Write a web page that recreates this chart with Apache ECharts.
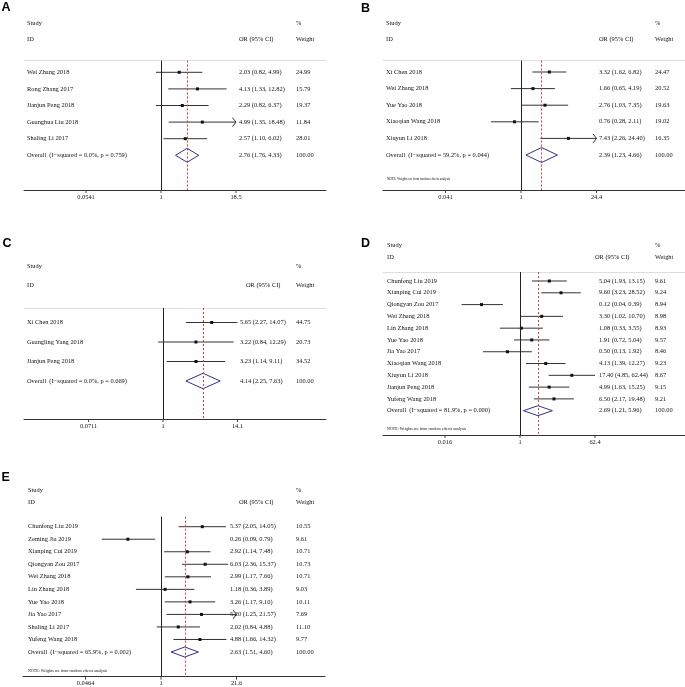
<!DOCTYPE html>
<html><head><meta charset="utf-8">
<script src="https://cdn.jsdelivr.net/npm/echarts@6/dist/echarts.min.js"></script>
<style>html,body{margin:0;padding:0;background:#fff}#c{width:685px;height:687px}</style>
</head><body><div id="c"></div><script>
// ---------------- DATA ----------------
const studiesA = ['Wei Zhang 2018','Rong Zhang 2017','Jianjun Peng 2018','Guanghua Liu 2018','Shaling Li 2017'];
const orA = [2.03, 4.13, 2.29, 4.99, 2.57];
const lowA = [0.82, 1.33, 0.82, 1.35, 1.10];
const highA = [4.99, 12.82, 6.37, 18.48, 6.02];
const weightA = [24.99, 15.79, 19.37, 11.84, 28.01];
const arrowsA = [0, 0, 0, 1, 0];
const overallA = [2.76, 1.76, 4.33];
const overallLabelA = 'Overall  (I\u2212squared = 0.0%, p = 0.759)';
const ticksA = [0.0541, 1, 18.5];
const tickLabelsA = ['0.0541', '1', '18.5'];

const studiesB = ['Xi Chen 2018','Wei Zhang 2018','Yue Yao 2018','Xiaoqian Wang 2018','Xiuyun Li 2018'];
const orB = [3.32, 1.66, 2.76, 0.76, 7.43];
const lowB = [1.62, 0.65, 1.03, 0.28, 2.26];
const highB = [6.82, 4.19, 7.35, 2.11, 24.40];
const weightB = [24.47, 20.52, 19.63, 19.02, 16.35];
const arrowsB = [0, 0, 0, 0, 1];
const overallB = [2.39, 1.23, 4.66];
const overallLabelB = 'Overall  (I\u2212squared = 59.2%, p = 0.044)';
const ticksB = [0.041, 1, 24.4];
const tickLabelsB = ['0.041', '1', '24.4'];

const studiesC = ['Xi Chen 2018','Guangling Yang 2018','Jianjun Peng 2018'];
const orC = [5.65, 3.22, 3.23];
const lowC = [2.27, 0.84, 1.14];
const highC = [14.07, 12.29, 9.11];
const weightC = [44.75, 20.73, 34.52];
const arrowsC = [0, 0, 0];
const overallC = [4.14, 2.25, 7.63];
const overallLabelC = 'Overall  (I\u2212squared = 0.0%, p = 0.669)';
const ticksC = [0.0711, 1, 14.1];
const tickLabelsC = ['0.0711', '1', '14.1'];

const studiesD = ['Chunfeng Liu 2019','Xianping Cui 2019','Qiongyan Zou 2017','Wei Zhang 2018','Lin Zhang 2018','Yue Yao 2018','Jia Yao 2017','Xiaoqian Wang 2018','Xiuyun Li 2018','Jianjun Peng 2018','Yufeng Wang 2018'];
const orD = [5.04, 9.60, 0.12, 3.30, 1.08, 1.91, 0.50, 4.13, 17.40, 4.99, 6.50];
const lowD = [1.93, 3.23, 0.04, 1.02, 0.33, 0.72, 0.13, 1.39, 4.85, 1.63, 2.17];
const highD = [13.15, 28.52, 0.39, 10.70, 3.55, 5.04, 1.92, 12.27, 62.44, 15.25, 19.48];
const weightD = [9.61, 9.24, 8.94, 8.98, 8.93, 9.57, 8.46, 9.23, 8.67, 9.15, 9.21];
const arrowsD = [0, 0, 0, 0, 0, 0, 0, 0, 0, 0, 0];
const overallD = [2.69, 1.21, 5.96];
const overallLabelD = 'Overall  (I\u2212squared = 81.9%, p = 0.000)';
const ticksD = [0.016, 1, 62.4];
const tickLabelsD = ['0.016', '1', '62.4'];

const studiesE = ['Chunfeng Liu 2019','Zeming Jia 2019','Xianping Cui 2019','Qiongyan Zou 2017','Wei Zhang 2018','Lin Zhang 2018','Yue Yao 2018','Jia Yao 2017','Shaling Li 2017','Yufeng Wang 2018'];
const orE = [5.37, 0.26, 2.92, 6.03, 2.99, 1.18, 3.26, 5.20, 2.02, 4.88];
const lowE = [2.05, 0.09, 1.14, 2.36, 1.17, 0.36, 1.17, 1.25, 0.84, 1.66];
const highE = [14.05, 0.79, 7.48, 15.37, 7.66, 3.89, 9.10, 21.57, 4.88, 14.32];
const weightE = [10.55, 9.61, 10.71, 10.73, 10.71, 9.03, 10.11, 7.69, 11.10, 9.77];
const arrowsE = [0, 0, 0, 0, 0, 0, 0, 1, 0, 0];
const overallE = [2.63, 1.51, 4.60];
const overallLabelE = 'Overall  (I\u2212squared = 65.9%, p = 0.002)';
const ticksE = [0.0464, 1, 21.6];
const tickLabelsE = ['0.0464', '1', '21.6'];

const noteText = 'NOTE: Weights are from random effects analysis';

// ---------------- LAYOUT ----------------
const panels = [
  {letter:'A', studies:studiesA, or:orA, lo:lowA, hi:highA, w:weightA, arrows:arrowsA, overall:overallA, overallLabel:overallLabelA, ticks:ticksA, tickLabels:tickLabelsA,
   L:{lx:1.5, ly:8, left:24, right:326, top:60.5, axisY:190, one:161, span:75, firstRow:72.3, rowStep:16.6, nameX:27, orX:239, orHeadX:239, wX:296, studyY:23, idY:39, dHalf:7, note:false}},
  {letter:'B', studies:studiesB, or:orB, lo:lowB, hi:highB, w:weightB, arrows:arrowsB, overall:overallB, overallLabel:overallLabelB, ticks:ticksB, tickLabels:tickLabelsB,
   L:{lx:361, ly:9, left:383, right:685, top:60.5, axisY:190, one:521, span:75.5, firstRow:72, rowStep:16.6, nameX:386, orX:599, orHeadX:599, wX:655, studyY:23, idY:39, dHalf:7.5, note:true, noteY:179, noteX:387, noteSize:3.2}},
  {letter:'C', studies:studiesC, or:orC, lo:lowC, hi:highC, w:weightC, arrows:arrowsC, overall:overallC, overallLabel:overallLabelC, ticks:ticksC, tickLabels:tickLabelsC,
   L:{lx:2.5, ly:244, left:24, right:326, top:308, axisY:419, one:163, span:74.5, firstRow:322.5, rowStep:19.5, nameX:27, orX:240, orHeadX:246, wX:296, studyY:266, idY:285, dHalf:7.7, note:false}},
  {letter:'D', studies:studiesD, or:orD, lo:lowD, hi:highD, w:weightD, arrows:arrowsD, overall:overallD, overallLabel:overallLabelD, ticks:ticksD, tickLabels:tickLabelsD,
   L:{lx:361, ly:244, left:383, right:685, top:272, axisY:435, one:520, span:75, firstRow:281, rowStep:11.79, nameX:387, orX:599, orHeadX:595, wX:655, studyY:245, idY:257, dHalf:5, note:true, noteY:429, noteX:387, noteSize:4}},
  {letter:'E', studies:studiesE, or:orE, lo:lowE, hi:highE, w:weightE, arrows:arrowsE, overall:overallE, overallLabel:overallLabelE, ticks:ticksE, tickLabels:tickLabelsE,
   L:{lx:1.5, ly:478, left:23, right:325, top:516.7, axisY:676.7, one:161, span:75.5, firstRow:526.7, rowStep:12.53, nameX:28, orX:230, orHeadX:239, wX:296, studyY:490, idY:502, dHalf:5, note:true, noteY:670.5, noteX:28, noteSize:4}}
];

const SERIF = '"Liberation Serif", "Times New Roman", serif';
const TXT = '#111';
const FS = 6.4;
function txt(x, y, s, size, align, color, weight, family) {
  return {type:'text', x:x, y:y, silent:true,
    style:{text:s, fill:color||TXT, font:(weight?weight+' ':'')+(size||FS)+'px '+(family||SERIF),
      align:align||'left', verticalAlign:'middle', textAlign:align||'left', textVerticalAlign:'middle'}};
}
const f2 = v => v.toFixed(2);

const grids = [], xAxes = [], yAxes = [], series = [], graphics = [];
panels.forEach((P, k) => {
  const L = P.L;
  const tmax = P.ticks[P.ticks.length - 1];
  const xmin = Math.pow(tmax, (L.left - L.one) / L.span);
  const xmax = Math.pow(tmax, (L.right - L.one) / L.span);
  const ymin = -(L.firstRow - L.top) / L.rowStep;
  const ymax = (L.axisY - L.firstRow) / L.rowStep;
  grids.push({left:L.left, top:L.top, width:L.right - L.left, height:L.axisY - L.top, containLabel:false});
  xAxes.push({type:'log', gridIndex:k, min:xmin, max:xmax, logBase:10, position:'bottom',
    axisLine:{show:true, onZero:false, lineStyle:{color:'#333', width:1}}, axisTick:{show:false}, axisLabel:{show:false}, splitLine:{show:false}});
  yAxes.push({type:'value', gridIndex:k, inverse:true, min:ymin, max:ymax, show:false, axisLine:{onZero:false}, splitLine:{show:false}});

  // reference lines
  series.push({type:'scatter', xAxisIndex:k, yAxisIndex:k, data:[], silent:true, animation:false,
    markLine:{silent:true, symbol:['none','none'], label:{show:false}, animation:false,
      data:[
        {yAxis:ymin, lineStyle:{color:'#dedede', width:1, type:'solid'}},
        {xAxis:1, lineStyle:{color:'#222', width:1, type:'solid'}},
        {xAxis:P.overall[0], lineStyle:{color:'#e23b32', width:1, type:[2,2]}}
      ]}});

  // rows
  const n = P.studies.length;
  const rows = P.studies.map((s, i) => [P.or[i], i, P.lo[i], P.hi[i], P.w[i], 0, P.arrows[i]]);
  rows.push([P.overall[0], n, P.overall[1], P.overall[2], 100, 1, 0]);
  series.push({type:'custom', xAxisIndex:k, yAxisIndex:k, data:rows, animation:false, silent:true, clip:false, z:3,
    renderItem:(params, api) => {
      const i = params.dataIndex;
      const or = api.value(0), y = api.value(1), lo = api.value(2), hi = api.value(3), w = api.value(4), isOv = api.value(5), arr = api.value(6);
      const yPx = api.coord([1, y])[1];
      const xo = api.coord([or, y])[0];
      const xl = api.coord([Math.max(lo, P.ticks[0]), y])[0];
      const xh = api.coord([Math.min(hi, tmax), y])[0];
      const ch = [];
      if (isOv) {
        const h = L.dHalf;
        ch.push({type:'polygon', shape:{points:[[xl,yPx],[xo,yPx-h],[xh,yPx],[xo,yPx+h]]},
          style:{fill:'none', stroke:'#2e3192', lineWidth:1}});
        ch.push(txt(L.nameX, yPx, P.overallLabel));
      } else {
        ch.push({type:'line', shape:{x1:xl, y1:yPx, x2:xh, y2:yPx}, style:{stroke:'#333', lineWidth:1}});
        if (arr) {
          ch.push({type:'polyline', shape:{points:[[xh-3.5, yPx-4.5],[xh, yPx],[xh-3.5, yPx+4.5]]}, style:{stroke:'#333', lineWidth:1, fill:'none'}});
        }
        ch.push({type:'rect', shape:{x:xo-1.5, y:yPx-1.5, width:3, height:3}, style:{fill:'#111'}});
        ch.push(txt(L.nameX, yPx, P.studies[i]));
      }
      ch.push(txt(L.orX, yPx, f2(or) + ' (' + f2(lo) + ', ' + f2(hi) + ')'));
      ch.push(txt(L.wX, yPx, f2(w)));
      return {type:'group', children:ch};
    }});

  // ticks
  series.push({type:'custom', xAxisIndex:k, yAxisIndex:k, data:P.ticks.map((v, j) => [v, ymax, j]), animation:false, silent:true, clip:false,
    renderItem:(params, api) => {
      const p = api.coord([api.value(0), api.value(1)]);
      return {type:'group', children:[
        {type:'line', shape:{x1:p[0], y1:p[1], x2:p[0], y2:p[1] + 3}, style:{stroke:'#444', lineWidth:1}},
        txt(p[0], p[1] + 7, P.tickLabels[api.value(2)], FS, 'center')
      ]};
    }});

  // headers
  graphics.push(txt(L.lx, L.ly, P.letter, 12.5, 'left', '#000', 'bold', '"Liberation Sans", Arial, sans-serif'));
  graphics.push(txt(L.nameX, L.studyY, 'Study'));
  graphics.push(txt(L.nameX, L.idY, 'ID'));
  graphics.push(txt(L.orHeadX, L.idY, 'OR (95% CI)'));
  graphics.push(txt(L.wX, L.studyY, '%'));
  graphics.push(txt(L.wX, L.idY, 'Weight'));
  if (L.note) graphics.push(txt(L.noteX, L.noteY, noteText, L.noteSize));
});

const chart = echarts.init(document.getElementById('c'), null, {renderer:'canvas'});
chart.setOption({
  animation:false,
  backgroundColor:'#fff',
  grid:grids, xAxis:xAxes, yAxis:yAxes, series:series,
  graphic:{elements:graphics}
});
</script></body></html>
